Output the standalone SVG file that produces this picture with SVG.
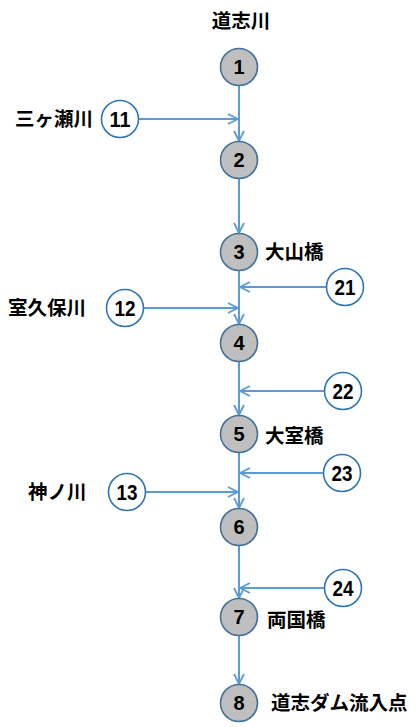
<svg xmlns="http://www.w3.org/2000/svg" width="418" height="727" viewBox="0 0 418 727">
<defs>
<marker id="ah" markerUnits="userSpaceOnUse" markerWidth="14" markerHeight="14" refX="11" refY="6" orient="auto" viewBox="0 0 14 12">
<path d="M1,1 L11,6 L1,11" fill="none" stroke="#5b9bd5" stroke-width="1.8"/>
</marker>
</defs>
<style>
.bg{fill:#ffffff}
.main{fill:#bfbfbf;stroke:#41719c;stroke-width:1.6}
.trib{fill:#ffffff;stroke:#2e75b6;stroke-width:1.6}
.num{font-family:"Liberation Sans",Arial,sans-serif;font-weight:bold;font-size:20px;fill:#000;text-anchor:middle}
.tnum{font-family:"Liberation Sans",Arial,sans-serif;font-weight:bold;font-size:22px;fill:#000;text-anchor:middle}
.lbl{font-family:"Noto Sans CJK JP",sans-serif;font-weight:bold;font-size:19.5px;fill:#000}
.ln{fill:none;stroke:#5b9bd5;stroke-width:2;marker-end:url(#ah)}
</style>
<rect class="bg" x="0" y="0" width="418" height="727"/>
<g id="connectors">
<line class="ln" x1="239" y1="86" x2="239" y2="141"/>
<line class="ln" x1="239" y1="179" x2="239" y2="233"/>
<line class="ln" x1="239" y1="271" x2="239" y2="324"/>
<line class="ln" x1="239" y1="362" x2="239" y2="415"/>
<line class="ln" x1="239" y1="453" x2="239" y2="508"/>
<line class="ln" x1="239" y1="546" x2="239" y2="598"/>
<line class="ln" x1="239" y1="636" x2="239" y2="684"/>
<line class="ln" x1="138" y1="119" x2="238" y2="119"/>
<line class="ln" x1="143" y1="308" x2="238" y2="308"/>
<line class="ln" x1="145" y1="492" x2="238" y2="492"/>
<line class="ln" x1="327" y1="287" x2="240" y2="287"/>
<line class="ln" x1="325" y1="391" x2="240" y2="391"/>
<line class="ln" x1="324" y1="473" x2="240" y2="473"/>
<line class="ln" x1="325" y1="588" x2="240" y2="588"/>
</g>
<g id="n1"><circle class="main" cx="239" cy="67" r="18.5"/><text class="num" x="239" y="74">1</text></g>
<g id="n2"><circle class="main" cx="239" cy="160" r="18.5"/><text class="num" x="239" y="167">2</text></g>
<g id="n3"><circle class="main" cx="239" cy="252" r="18.5"/><text class="num" x="239" y="259">3</text></g>
<g id="n4"><circle class="main" cx="239" cy="343" r="18.5"/><text class="num" x="239" y="350">4</text></g>
<g id="n5"><circle class="main" cx="239" cy="434" r="18.5"/><text class="num" x="239" y="441">5</text></g>
<g id="n6"><circle class="main" cx="239" cy="527" r="18.5"/><text class="num" x="239" y="534">6</text></g>
<g id="n7"><circle class="main" cx="239" cy="617" r="18.5"/><text class="num" x="239" y="624">7</text></g>
<g id="n8"><circle class="main" cx="239" cy="703" r="18.5"/><text class="num" x="239" y="710">8</text></g>
<g id="n11"><circle class="trib" cx="120" cy="119" r="18.5"/><text class="tnum" x="120" y="127" textLength="21" lengthAdjust="spacingAndGlyphs">11</text></g>
<g id="n12"><circle class="trib" cx="125" cy="308" r="18.5"/><text class="tnum" x="125" y="316" textLength="21" lengthAdjust="spacingAndGlyphs">12</text></g>
<g id="n13"><circle class="trib" cx="127" cy="492" r="18.5"/><text class="tnum" x="127" y="500" textLength="21" lengthAdjust="spacingAndGlyphs">13</text></g>
<g id="n21"><circle class="trib" cx="345" cy="287" r="18.5"/><text class="tnum" x="345" y="295" textLength="21" lengthAdjust="spacingAndGlyphs">21</text></g>
<g id="n22"><circle class="trib" cx="343" cy="391" r="18.5"/><text class="tnum" x="343" y="399" textLength="21" lengthAdjust="spacingAndGlyphs">22</text></g>
<g id="n23"><circle class="trib" cx="342" cy="473" r="18.5"/><text class="tnum" x="342" y="481" textLength="21" lengthAdjust="spacingAndGlyphs">23</text></g>
<g id="n24"><circle class="trib" cx="343" cy="588" r="18.5"/><text class="tnum" x="343" y="596" textLength="21" lengthAdjust="spacingAndGlyphs">24</text></g>
<g id="labels">
<text class="lbl" x="241" y="28" text-anchor="middle">道志川</text>
<text class="lbl" x="15" y="126">三ヶ瀬川</text>
<text class="lbl" x="8" y="315">室久保川</text>
<text class="lbl" x="28" y="499">神ノ川</text>
<text class="lbl" x="265" y="259">大山橋</text>
<text class="lbl" x="265" y="443">大室橋</text>
<text class="lbl" x="267" y="627">両国橋</text>
<text class="lbl" x="271" y="710">道志ダム流入点</text>
</g>
</svg>
